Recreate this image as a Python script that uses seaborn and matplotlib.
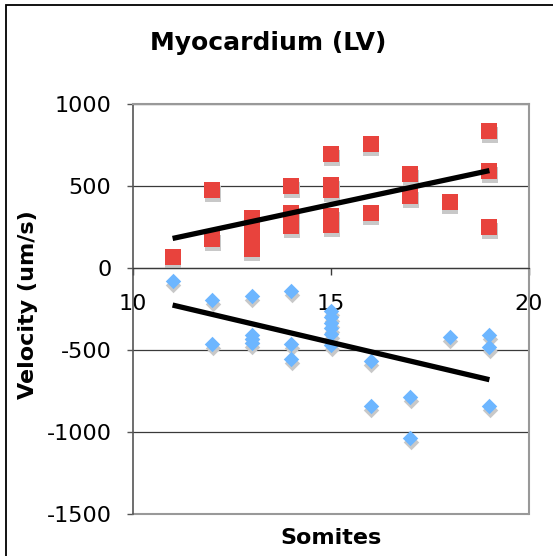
import numpy as np
import pandas as pd
import matplotlib
matplotlib.use("Agg")
import matplotlib.pyplot as plt
from matplotlib.patches import Rectangle
from matplotlib.transforms import offset_copy
import seaborn as sns

# ---- data ----
red_x = [11, 12, 12, 13, 13, 13, 13, 13, 14, 14, 14, 14,
         15, 15, 15, 15, 15, 15, 16, 16, 17, 17, 18, 19, 19, 19]
red_y = [68, 473, 178, 302, 260, 215, 170, 118, 503, 335, 295, 255,
         698, 506, 476, 320, 285, 260, 756, 338, 576, 440, 405, 837, 590, 250]

blue_x = [11, 12, 12, 13, 13, 13, 13, 14, 14, 14,
          15, 15, 15, 15, 15, 15, 16, 16, 17, 17, 18, 19, 19, 19]
blue_y = [-77, -195, -465, -171, -410, -435, -459, -140, -465, -555,
          -265, -300, -335, -365, -400, -470, -567, -841, -785, -1035, -419, -409, -480, -841]

x_ticks = [10, 15, 20]
y_ticks = [-1500, -1000, -500, 0, 500, 1000]

title = "Myocardium (LV)"
x_label = "Somites"
y_label = "Velocity (um/s)"

red_color = "#E8433D"
blue_color = "#6DB6FF"
shadow_color = "#C8C8C8"

sns.set_theme(style="white")
plt.rcParams["font.family"] = ["DejaVu Sans"]

W, H = 553, 556
fig = plt.figure(figsize=(W / 100, H / 100), dpi=100)
ax = fig.add_axes([133 / W, 1 - 514 / H, (529 - 133) / W, (514 - 104) / H])

red = pd.DataFrame({"x": red_x, "y": red_y})
blue = pd.DataFrame({"x": blue_x, "y": blue_y})

shadow_tr = offset_copy(ax.transData, fig=fig, x=0.5, y=-4, units="dots")

# shadows
for df, mk, s in [(red, "s", 117), (blue, "D", 62)]:
    sns.scatterplot(data=df, x="x", y="y", marker=mk, s=s, color=shadow_color,
                    linewidth=0, ax=ax, zorder=2, legend=False)
    ax.collections[-1].set_offset_transform(shadow_tr)

# markers
sns.scatterplot(data=red, x="x", y="y", marker="s", s=117, color=red_color,
                linewidth=0, ax=ax, zorder=3, legend=False)
sns.scatterplot(data=blue, x="x", y="y", marker="D", s=62, color=blue_color,
                linewidth=0, ax=ax, zorder=3, legend=False)

# linear trendlines
for df in (red, blue):
    sns.regplot(data=df, x="x", y="y", scatter=False, ci=None, truncate=True,
                line_kws={"color": "black", "lw": 3.8, "zorder": 5,
                          "solid_capstyle": "butt"}, ax=ax)

ax.set_xlim(10, 20)
ax.set_ylim(-1500, 1000)
ax.set_xticks(x_ticks)
ax.set_yticks(y_ticks)
ax.set_xticklabels([str(v) for v in x_ticks])
ax.set_yticklabels([str(v) for v in y_ticks])

ax.yaxis.grid(True, color="#3a3a3a", lw=0.9, zorder=1)
ax.xaxis.grid(False)
ax.set_axisbelow(True)

for sp in ("top", "right"):
    ax.spines[sp].set_color("#999999")
    ax.spines[sp].set_linewidth(1.5)
ax.spines["left"].set_color("#555555")
ax.spines["left"].set_linewidth(1.2)
ax.spines["bottom"].set_position(("data", 0))
ax.spines["bottom"].set_color("#3a3a3a")
ax.spines["bottom"].set_linewidth(0.9)
# bottom frame line of the plot area
ax.axhline(-1500, color="#999999", lw=1.5, clip_on=False, zorder=1)

ax.tick_params(axis="y", which="major", direction="out", length=4.5, width=1,
               color="#555555", pad=11, labelsize=16, left=True, labelcolor="black")
ax.tick_params(axis="x", which="major", direction="out", length=5, width=1,
               color="#3a3a3a", pad=13.5, labelsize=16, bottom=True, labelcolor="black")

ax.set_xlabel(x_label, fontsize=16, fontweight="bold", color="black")
ax.set_ylabel(y_label, fontsize=16, fontweight="bold", color="black")
ax.xaxis.label.set_va("center")
ax.yaxis.label.set_va("center")
ax.xaxis.set_label_coords((331 - 133) / 396, (514 - 538) / 410)
ax.yaxis.set_label_coords((28 - 133) / 396, (514 - 305) / 410)

fig.suptitle(title, x=268 / W, y=1 - 43 / H, va="center", fontsize=18,
             fontweight="bold", color="black")

fig.patches.append(Rectangle((6 / W, -0.1), 2, 1 - 5 / H + 0.1, transform=fig.transFigure,
                             fill=False, ec="black", lw=1.3, zorder=0))

fig.savefig("out.png", dpi=100, facecolor="white")
